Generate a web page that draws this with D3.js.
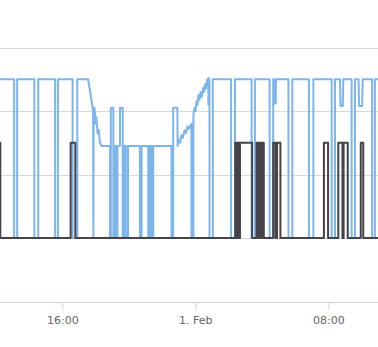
<!DOCTYPE html>
<html>
<head>
<meta charset="utf-8">
<script src="https://cdn.jsdelivr.net/npm/d3@7"></script>
<style>
  html, body { margin: 0; padding: 0; background: #fff; overflow: hidden; }
  svg { display: block; }
  .tick-label { font-family: "DejaVu Sans", Verdana, sans-serif; font-size: 11px; fill: #666666; }
</style>
</head>
<body>
<div id="chart"></div>
<script>
/* minutes after 31 Jan 12:00 and the level at that moment */
const blueTime = [-10, 66, 66, 77, 77, 139, 139, 153, 153, 214, 214, 224, 224, 277, 277, 294, 294,
  333, 346, 351, 352, 353, 356, 360, 363, 367, 371, 376, 382,
  412, 412, 415, 415, 424, 424, 430, 430, 434, 434, 439, 439, 448, 448, 458, 458, 464, 464, 469, 469, 477, 477,
  520, 520, 526, 526, 550, 550, 556, 556, 562, 562, 568, 568, 634, 634, 640, 640, 655, 656,
  659, 665, 670, 675, 681, 686, 692, 697, 706, 706, 713, 713, 717, 721, 724, 728, 731, 735, 739, 743, 748, 751, 755, 758, 762, 767, 767, 768, 771, 771,
  783, 783, 849, 849, 863, 863, 923, 923, 935, 935, 988, 988, 1001, 1001, 1004, 1005, 1010, 1011,
  1056, 1056, 1070, 1070, 1130, 1130, 1146, 1146, 1212, 1212, 1224, 1224, 1242, 1244, 1252, 1254,
  1284, 1284, 1296, 1296, 1309, 1311, 1322, 1324, 1358, 1358, 1368, 1368, 1400];
const blueValue = [2.5, 2.5, 0, 0, 2.5, 2.5, 0, 0, 2.5, 2.5, 0, 0, 2.5, 2.5, 0, 0, 2.5,
  2.5, 2.15, 2.0, 0, 1.95, 2.05, 1.8, 1.9, 1.65, 1.7, 1.5, 1.45,
  1.45, 0, 0, 2.05, 2.05, 0, 0, 1.45, 1.45, 0, 0, 1.45, 1.45, 2.05, 2.05, 0, 0, 1.45, 1.45, 0, 0, 1.45,
  1.45, 0, 0, 1.45, 1.45, 0, 0, 1.45, 1.45, 0, 0, 1.45, 1.45, 0, 0, 2.05, 2.05, 1.45,
  1.55, 1.5, 1.62, 1.58, 1.7, 1.65, 1.76, 1.72, 1.8, 0, 0, 1.95, 2.05, 2.0, 2.15, 2.1, 2.25, 2.18, 2.3, 2.22, 2.36, 2.3, 2.42, 2.35, 2.48, 2.52, 2.1, 2.5, 2.5, 0,
  0, 2.5, 2.5, 0, 0, 2.5, 2.5, 0, 0, 2.5, 2.5, 0, 0, 2.5, 2.5, 2.12, 2.12, 2.5,
  2.5, 0, 0, 2.5, 2.5, 0, 0, 2.5, 2.5, 0, 0, 2.5, 2.5, 2.08, 2.08, 2.5,
  2.5, 0, 0, 2.5, 2.5, 2.08, 2.08, 2.5, 2.5, 0, 0, 2.5, 2.5];

const darkTime = [-10, 16, 16, 270, 270, 287, 287,
  864, 864, 869, 869, 873, 873, 877, 877, 881, 881, 925, 925, 941, 941, 947, 947, 952, 952, 957, 957, 961, 961, 967, 967,
  1001, 1001, 1009, 1009, 1015, 1015, 1027, 1027,
  1184, 1184, 1199, 1199, 1236, 1236, 1251, 1251, 1255, 1255, 1270, 1270, 1317, 1317, 1326, 1326, 1400];
const darkValue = [1.5, 1.5, 0, 0, 1.5, 1.5, 0,
  0, 1.5, 1.5, 0, 0, 1.5, 1.5, 0, 0, 1.5, 1.5, 0, 0, 1.5, 1.5, 0, 0, 1.5, 1.5, 0, 0, 1.5, 1.5, 0,
  0, 1.5, 1.5, 0, 0, 1.5, 1.5, 0,
  0, 1.5, 1.5, 0, 0, 1.5, 1.5, 0, 0, 1.5, 1.5, 0, 0, 1.5, 1.5, 0, 0];

const gridValues = [0, 1, 2, 3];

const width = 378;
const height = 347;
const start = new Date(2016, 0, 31, 12, 0);
const toDate = (m) => new Date(start.getTime() + m * 60000);

const xScale = d3.scaleTime()
  .domain([toDate(15), toDate(1379.2)])
  .range([0, width]);

const yScale = d3.scaleLinear()
  .domain([-1, 3])
  .range([301.5, 47.5]);

const svg = d3.select("#chart")
  .append("svg")
  .attr("width", width)
  .attr("height", height);

/* horizontal grid */
svg.append("g")
  .selectAll("line")
  .data(gridValues)
  .enter()
  .append("line")
  .attr("x1", 0)
  .attr("x2", width)
  .attr("y1", d => Math.round(yScale(d)) + 0.5)
  .attr("y2", d => Math.round(yScale(d)) + 0.5)
  .attr("stroke", "#d8d8d8")
  .attr("stroke-width", 1);

/* x axis */
const xAxis = d3.axisBottom(xScale)
  .ticks(d3.timeHour.every(8))
  .tickSize(8)
  .tickPadding(6)
  .tickFormat(d => d.getHours() === 0 ? d3.timeFormat("%-d. %b")(d) : d3.timeFormat("%H:%M")(d));

const axisG = svg.append("g")
  .attr("transform", "translate(0," + (Math.round(yScale(-1)) + 0.5) + ")")
  .call(xAxis);
axisG.select(".domain").attr("stroke", "#ccd6eb").attr("d", "M0,0H" + width);
axisG.selectAll(".tick line").attr("stroke", "#ccd6eb");
axisG.selectAll(".tick text").attr("class", "tick-label").attr("fill", null);
axisG.attr("font-family", null).attr("font-size", null);

const line = d3.line()
  .x(d => xScale(toDate(d[0])))
  .y(d => yScale(d[1]));

const blueData = blueTime.map((t, i) => [t, blueValue[i]]);
const darkData = darkTime.map((t, i) => [t, darkValue[i]]);

svg.append("path")
  .datum(blueData)
  .attr("fill", "none")
  .attr("stroke", "#7cb5ec")
  .attr("stroke-width", 2)
  .attr("stroke-linejoin", "round")
  .attr("d", line);

svg.append("path")
  .datum(darkData)
  .attr("fill", "none")
  .attr("stroke", "#434348")
  .attr("stroke-width", 2)
  .attr("stroke-linejoin", "round")
  .attr("d", line);
</script>
</body>
</html>
